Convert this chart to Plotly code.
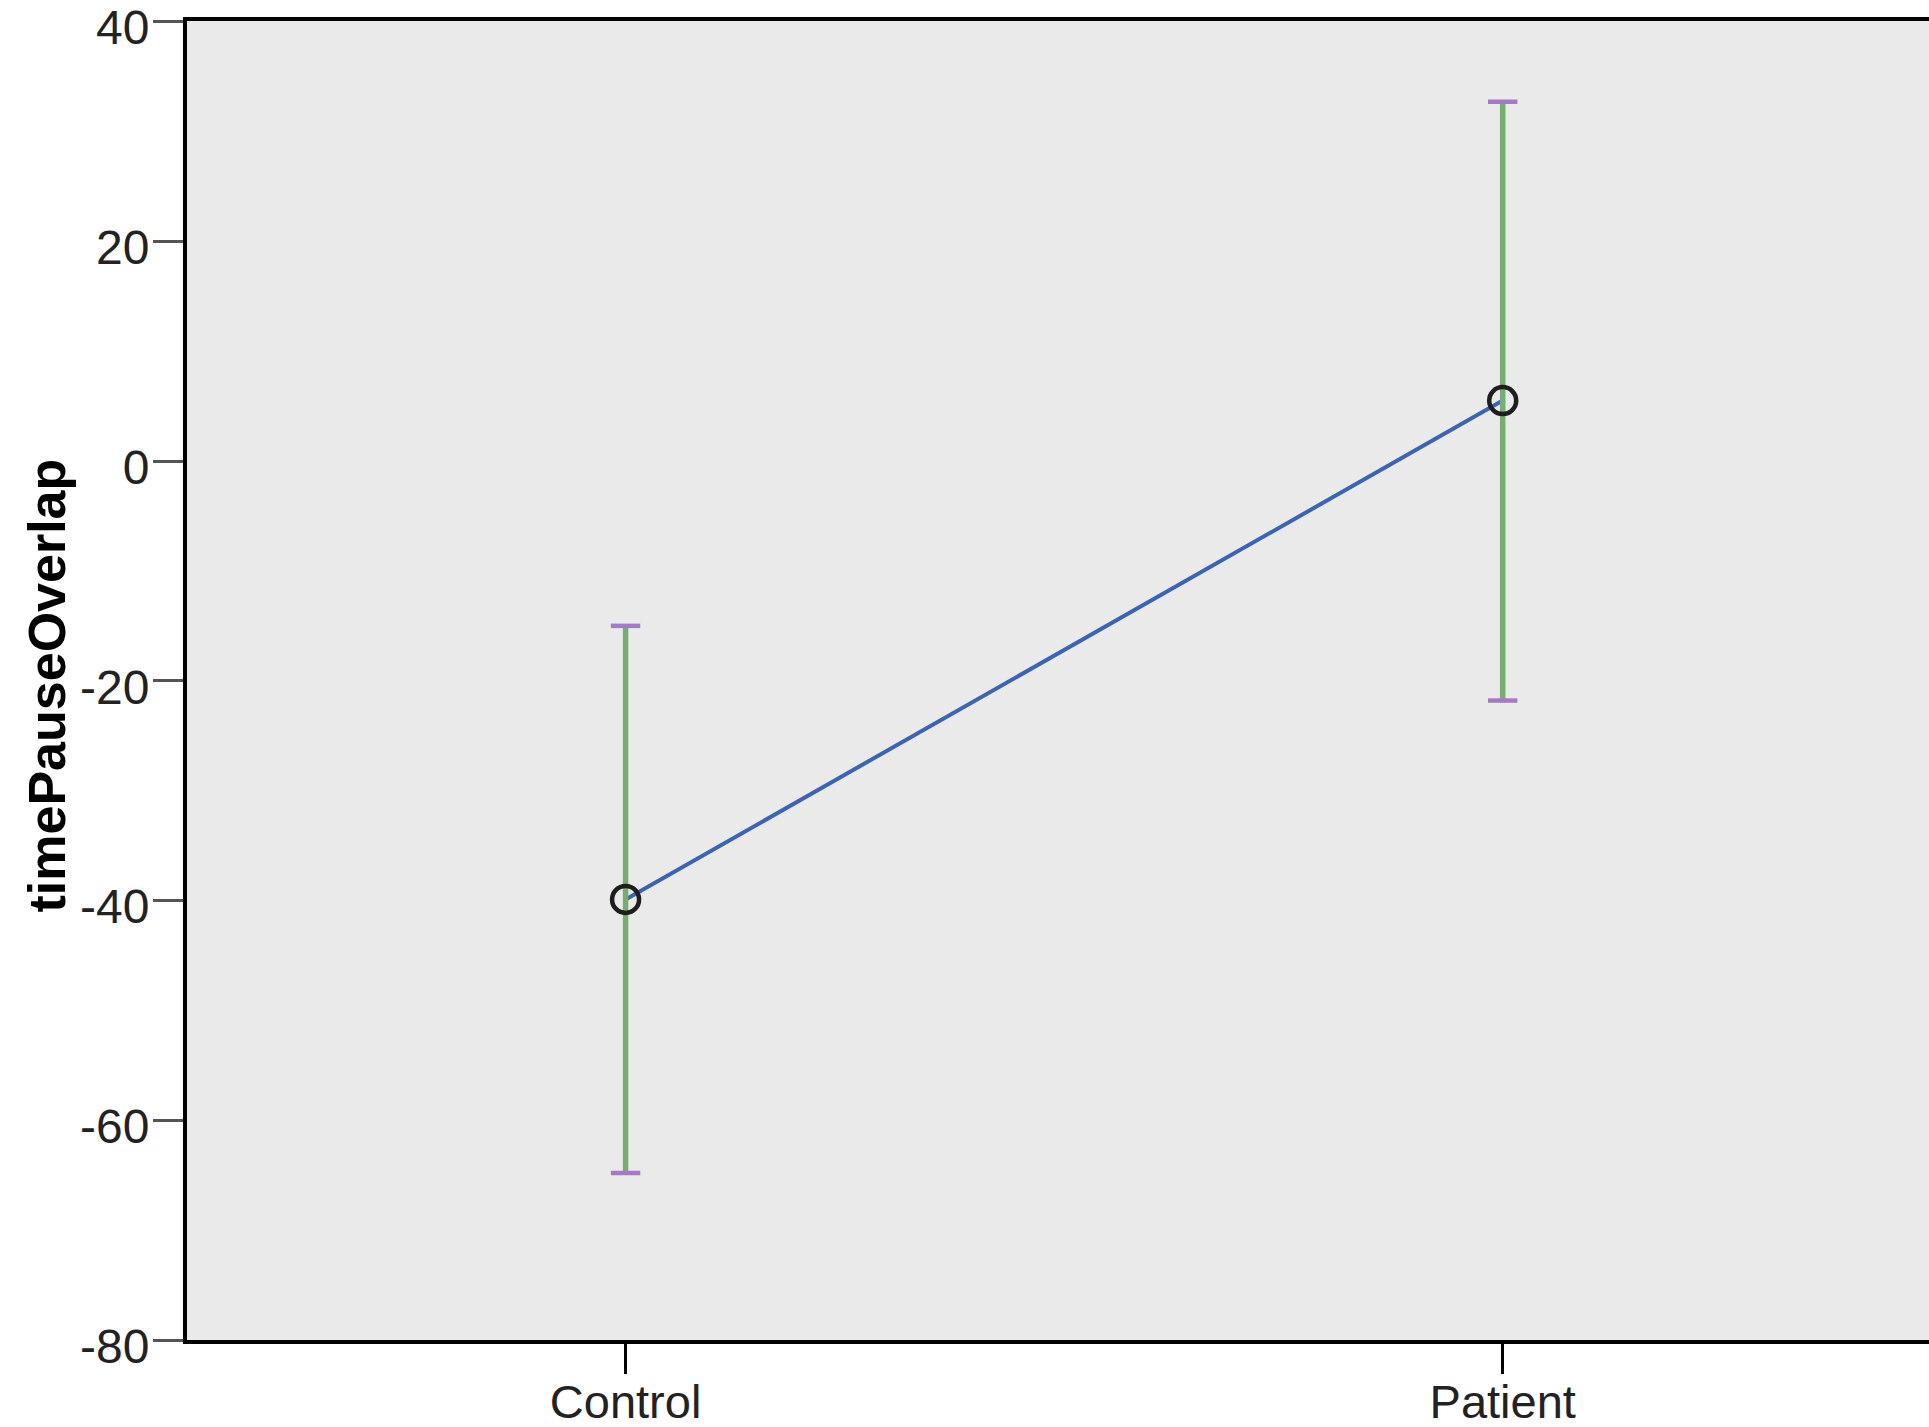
import plotly.graph_objects as go

# Data
groups = ["Control", "Patient"]
means = [-39.9, 5.5]
ci_upper = [-15.0, 32.7]
ci_lower = [-64.8, -21.8]
y_ticks = [-80, -60, -40, -20, 0, 20, 40]
y_title = "timePauseOverlap"

err_plus = [u - m for u, m in zip(ci_upper, means)]
err_minus = [m - l for m, l in zip(means, ci_lower)]
x_pos = list(range(len(groups)))

FONT = "Liberation Sans, Arial, sans-serif"

fig = go.Figure()

# connecting line
fig.add_trace(go.Scatter(
    x=x_pos, y=means, mode="lines",
    line=dict(color="#3d64b4", width=4),
    hoverinfo="skip", showlegend=False,
))

# green error whiskers (no caps)
fig.add_trace(go.Scatter(
    x=x_pos, y=means, mode="markers",
    marker=dict(size=1, color="rgba(0,0,0,0)"),
    error_y=dict(type="data", symmetric=False, array=err_plus, arrayminus=err_minus,
                 color="#78ad72", thickness=5.5, width=0),
    showlegend=False,
))

# purple caps
fig.add_trace(go.Scatter(
    x=x_pos + x_pos, y=ci_upper + ci_lower, mode="markers",
    marker=dict(symbol="line-ew", size=21, line=dict(color="#a47ac4", width=4.5)),
    showlegend=False,
))

# mean markers
fig.add_trace(go.Scatter(
    x=x_pos, y=means, mode="markers",
    marker=dict(symbol="circle-open", size=27, color="#1e1e1e", line=dict(width=4.5, color="#1e1e1e")),
    showlegend=False,
))

fig.update_layout(
    width=1929, height=1427,
    margin=dict(l=187, r=0, t=21, b=87, pad=0),
    paper_bgcolor="white",
    plot_bgcolor="#eaeaea",
    font=dict(family=FONT, size=46, color="#222222"),
    showlegend=False,
)

fig.update_xaxes(
    range=[-0.5, 1.486],
    automargin=False,
    tickmode="array", tickvals=x_pos, ticktext=groups,
    showgrid=False, zeroline=False,
    showline=True, linecolor="black", linewidth=4, mirror=True,
    ticks="outside", ticklen=30, tickwidth=3, tickcolor="black",
    ticklabelstandoff=-12, ticklabeloverflow="allow",
    tickfont=dict(family=FONT, size=47, color="#222222"),
)

fig.update_yaxes(
    range=[-80, 40.05],
    automargin=False,
    tickmode="array", tickvals=y_ticks, ticktext=[str(v) for v in y_ticks],
    showgrid=False, zeroline=False,
    showline=True, linecolor="black", linewidth=4, mirror=False,
    ticks="outside", ticklen=30, tickwidth=3, tickcolor="#555555",
    ticklabelstandoff=-6, ticklabelshift=6, ticklabeloverflow="allow",
    tickfont=dict(family=FONT, size=48, color="#222222"),
)

fig.add_annotation(
    text="<b>" + y_title + "</b>",
    xref="paper", yref="paper", x=0, y=0.5,
    xanchor="center", yanchor="middle",
    xshift=-141, yshift=-5, textangle=-90, showarrow=False,
    font=dict(family=FONT, size=52, color="black"),
)

fig.write_html(
    "out.html",
    config={"displayModeBar": False},
    post_script="document.body.style.margin='0';document.body.style.overflow='hidden';",
)
